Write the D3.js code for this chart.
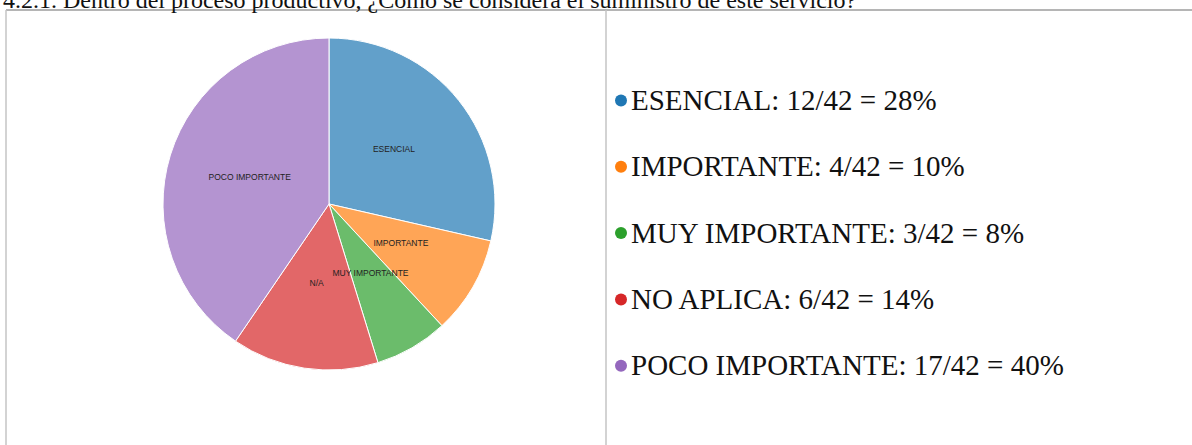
<!DOCTYPE html>
<html>
<head>
<meta charset="utf-8">
<script src="https://cdn.jsdelivr.net/npm/d3@7/dist/d3.min.js"></script>
<style>
  html, body { margin: 0; padding: 0; background: #fff; }
  svg { display: block; }
</style>
</head>
<body>
<svg id="chart" width="1192" height="445"></svg>
<script>
const title = "4.2.1. Dentro del proceso productivo, ¿Cómo se considera el suministro de este servicio?";
const categories = ["ESENCIAL", "IMPORTANTE", "MUY IMPORTANTE", "NO APLICA", "POCO IMPORTANTE"];
const sliceLabels = ["ESENCIAL", "IMPORTANTE", "MUY IMPORTANTE", "N/A", "POCO IMPORTANTE"];
const values = [12, 4, 3, 6, 17];
const percentLabels = ["28%", "10%", "8%", "14%", "40%"];
const colors = ["#1f77b4", "#ff7f0e", "#2ca02c", "#d62728", "#9467bd"];

const total = d3.sum(values);
const svg = d3.select("#chart");

// frame
svg.append("line").attr("x1", 6).attr("x2", 1192).attr("y1", 10).attr("y2", 10)
  .attr("stroke", "#b5b5b5").attr("stroke-width", 2);
svg.append("line").attr("x1", 6).attr("x2", 6).attr("y1", 10).attr("y2", 445)
  .attr("stroke", "#c4c4c4").attr("stroke-width", 1.5);
svg.append("line").attr("x1", 606).attr("x2", 606).attr("y1", 10).attr("y2", 445)
  .attr("stroke", "#c4c4c4").attr("stroke-width", 1.5);

// title (partly above the visible area, as in the reference)
svg.append("text").attr("x", 3).attr("y", 8)
  .attr("font-family", "'Liberation Serif', 'DejaVu Serif', serif")
  .attr("font-size", 24).attr("fill", "#111")
  .text(title);

// pie
const color = d3.scaleOrdinal().domain(categories).range(colors);
const pie = d3.pie().sort(null).value(d => d.value);
const data = categories.map((c, i) => ({ cat: c, label: sliceLabels[i], value: values[i] }));
const arcs = pie(data);
const r = 166;
const arc = d3.arc().innerRadius(0).outerRadius(r);
const g = svg.append("g").attr("transform", "translate(329,204)");
g.selectAll("path").data(arcs).join("path")
  .attr("d", arc)
  .attr("fill", d => color(d.data.cat))
  .attr("fill-opacity", 0.7)
  .attr("stroke", "#fff").attr("stroke-width", 1);
g.selectAll("text").data(arcs).join("text")
  .attr("transform", d => `translate(${arc.centroid(d)})`)
  .attr("text-anchor", "middle")
  .attr("font-family", "'Liberation Sans', Arial, sans-serif")
  .attr("font-size", 8.5)
  .attr("fill", "#222")
  .text(d => d.data.label);

// legend
const legend = svg.append("g");
const y0 = 110, step = 66.3;
const items = legend.selectAll("g").data(data).join("g")
  .attr("transform", (d, i) => `translate(0,${y0 + i * step})`);
items.append("circle").attr("cx", 621).attr("cy", -9.5).attr("r", 6)
  .attr("fill", d => color(d.cat));
items.append("text").attr("x", 631).attr("y", 0)
  .attr("font-family", "'Liberation Serif', 'Times New Roman', serif")
  .attr("font-size", 29).attr("fill", "#111")
  .text((d, i) => `${d.cat}: ${d.value}/${total} = ${percentLabels[i]}`);
</script>
</body>
</html>
